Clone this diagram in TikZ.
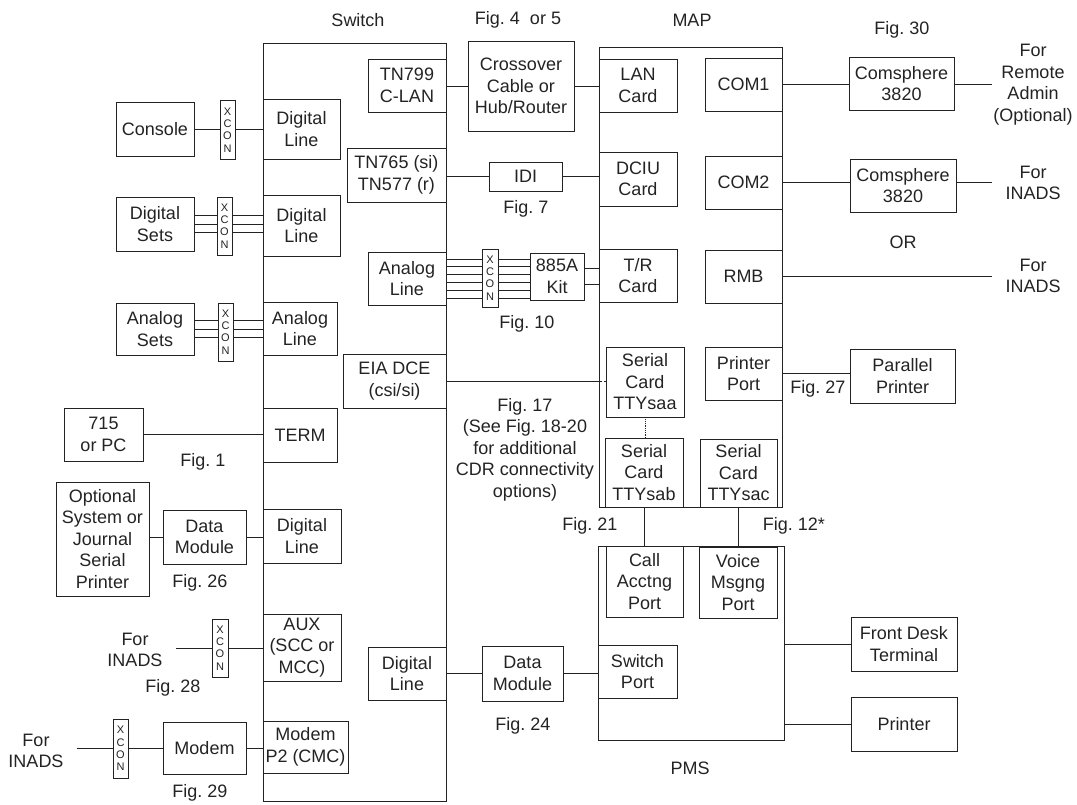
\documentclass[tikz,border=0pt]{standalone}
\usepackage{fontspec}
\setmainfont{Liberation Sans}
\usetikzlibrary{
  positioning,
  calc
}
\definecolor{ink}{RGB}{35,35,35}
\frenchspacing

\begin{document}
\begin{tikzpicture}[
  x=1pt, y=-1pt,
  every node/.style={font=\fontsize{18}{21.5}\selectfont, text=ink},
  card/.style={draw=ink, line width=0.9pt, align=center, inner sep=0pt},
  wh/.style 2 args={minimum width=#1, minimum height=#2},
  xcon/.style={card, minimum width=15pt, minimum height=58pt,
               font=\fontsize{11}{12.3}\selectfont},
  note/.style={align=center, text width=82pt, inner sep=0pt},
  wire/.style={draw=ink, line width=0.8pt}
]
\useasboundingbox (0,0) rectangle (1077,805);

% titles
\node (switchlbl) at (358,20) {Switch};
\node (fig45) at (518,20) {Fig. 4\ \ or 5};
\node (maplbl) at (692,20) {MAP};
\node (fig30) at (902,30) {Fig. 30};
\node (pmslbl) at (690,768) {PMS};

% the three cabinets
\node[card, wh={183pt}{758pt}] (switch) at (354.5,422) {};
\node[card, wh={183pt}{460pt}] (map) at (690.5,277) {};
\node[card, wh={186pt}{194pt}] (pms) at (691,643) {};

% switch boards
\node[card, wh={77pt}{60pt}] (dl1) at (301.5,129) {Digital\\Line};
\node[card, wh={78pt}{53pt}] (tn799) at (407,85.5) {TN799\\C-LAN};
\node[card, wh={99pt}{54pt}] (tn765) at (396.5,175) {TN765 (si)\\TN577 (r)};
\node[card, wh={77pt}{61pt}] (dl2) at (301.5,225.5) {Digital\\Line};
\node[card, wh={78pt}{53pt}] (alin) at (407,278.5) {Analog\\Line};
\node[card, wh={74pt}{53pt}] (al) at (300,328.5) {Analog\\Line};
\node[card, wh={103pt}{54pt}] (eia) at (394.5,381) {EIA DCE\\(csi/si)};
\node[card, wh={74pt}{54pt}] (term) at (300,435) {TERM};
\node[card, wh={78pt}{54pt}] (dl3) at (302,536) {Digital\\Line};
\node[card, wh={78pt}{67pt}] (aux) at (302,647.5) {AUX\\(SCC or\\MCC)};
\node[card, wh={78pt}{53pt}] (dl4) at (407,673.5) {Digital\\Line};
\node[card, wh={85pt}{52pt}] (modemp2) at (305.5,747) {Modem\\P2 (CMC)};

% left side
\node[card, wh={78pt}{54pt}] (console) at (155,129) {Console};
\node[xcon, minimum height=59pt] (xcon1) at (227.5,130) {X\\C\\O\\N};
\node[card, wh={78pt}{54pt}] (dsets) at (155,224) {Digital\\Sets};
\node[xcon] (xcon2) at (224.5,226) {X\\C\\O\\N};
\node[card, wh={78pt}{52pt}] (asets) at (155,329) {Analog\\Sets};
\node[xcon] (xcon4) at (225.5,332) {X\\C\\O\\N};
\node[card, wh={79pt}{53pt}] (pc715) at (103.5,434.5) {715\\or PC};
\node[card, wh={93pt}{114pt}] (optional) at (102.5,539)
  {Optional\\System or\\Journal\\Serial\\Printer};
\node[card, wh={83pt}{54pt}] (dmod1) at (204.5,537) {Data\\Module};
\node[xcon, minimum width=16pt] (xcon5) at (220,648) {X\\C\\O\\N};
\node[note] (inads1) at (135,650) {For\\INADS};
\node[card, wh={83pt}{52pt}] (modem) at (204.5,748) {Modem};
\node[xcon, minimum height=59pt] (xcon6) at (120.5,748.5) {X\\C\\O\\N};
\node[note] (inads2) at (36,751) {For\\INADS};

% middle
\node[card, wh={106pt}{90pt}] (crossover) at (521,86) {Crossover\\Cable or\\Hub/Router};
\node[card, wh={73pt}{29pt}] (idi) at (525.5,176.5) {IDI};
\node[xcon, minimum width=16pt] (xcon3) at (490,278) {X\\C\\O\\N};
\node[card, wh={54pt}{47pt}] (kit) at (557,276.5) {885A\\Kit};
\node[card, wh={81pt}{55pt}] (dmod2) at (522.5,673.5) {Data\\Module};

% MAP cards
\node[card, wh={78pt}{53pt}] (lan) at (638,85.5) {LAN\\Card};
\node[card, wh={77pt}{53pt}] (com1) at (743.5,84.5) {COM1};
\node[card, wh={78pt}{54pt}] (dciu) at (638,179) {DCIU\\Card};
\node[card, wh={77pt}{53pt}] (com2) at (743.5,182.5) {COM2};
\node[card, wh={78pt}{53pt}] (tr) at (638,275.5) {T/R\\Card};
\node[card, wh={77pt}{53pt}] (rmb) at (743.5,276.5) {RMB};
\node[card, wh={78pt}{70pt}] (saa) at (645,382) {Serial\\Card\\TTYsaa};
\node[card, wh={77pt}{53pt}] (pport) at (743.5,373.5) {Printer\\Port};
\node[card, wh={78pt}{69pt}] (sab) at (644,472.5) {Serial\\Card\\TTYsab};
\node[card, wh={77pt}{68pt}] (sac) at (738.5,473) {Serial\\Card\\TTYsac};

% PMS ports
\node[card, wh={77pt}{71pt}] (call) at (644.5,581.5) {Call\\Acctng\\Port};
\node[card, wh={78pt}{71pt}] (voice) at (738,582.5) {Voice\\Msgng\\Port};
\node[card, wh={79pt}{53pt}] (swport) at (637.5,671.5) {Switch\\Port};

% right side
\node[card, wh={105pt}{53pt}] (cs1) at (901.5,83.5) {Comsphere\\3820};
\node[note] (remote) at (1033,84.5) {For\\Remote\\Admin\\(Optional)};
\node[card, wh={106pt}{53pt}] (cs2) at (903,185.5) {Comsphere\\3820};
\node[note] (inads3) at (1033,183) {For\\INADS};
\node (orlbl) at (903,242) {OR};
\node[note] (inads4) at (1033,276) {For\\INADS};
\node[card, wh={105pt}{54pt}] (parprinter) at (902.5,376) {Parallel\\Printer};
\node[card, wh={106pt}{54pt}] (frontdesk) at (904,644) {Front Desk\\Terminal};
\node[card, wh={106pt}{54pt}] (printer) at (904,724) {Printer};

% figure references
\node (fig1) at (203,462) {Fig. 1};
\node (fig7) at (526,209) {Fig. 7};
\node (fig10) at (527,324) {Fig. 10};
\node[align=center, inner sep=0pt] (fig17) at (525,449.5)
  {Fig. 17\\(See Fig. 18-20\\for additional\\CDR connectivity\\options)};
\node (fig21) at (590,526) {Fig. 21};
\node (fig12) at (794,526) {Fig. 12*};
\node (fig24) at (523,726) {Fig. 24};
\node (fig26) at (200,583) {Fig. 26};
\node (fig27) at (818,389) {Fig. 27};
\node (fig28) at (173,688) {Fig. 28};
\node (fig29) at (200,793) {Fig. 29};

% single wires
\draw[wire] (console.east) -- (console.east -| xcon1.west)
  (xcon1.east |- console.east) -- (console.east -| dl1.west);
\draw[wire] (crossover.west -| tn799.east) -- (crossover.west)
  (crossover.east) -- (crossover.east -| lan.west);
\draw[wire] (idi.west -| tn765.east) -- (idi.west)
  (idi.east) -- (idi.east -| dciu.west);
\draw[wire] (pc715.east) -- (pc715.east -| term.west);
\draw[wire] (eia.east) -- (eia.east -| map.west);
\draw[wire, densely dashed] (eia.east -| map.west) -- (eia.east -| saa.west);
\draw[wire, densely dotted, line width=0.6pt] (saa.south) -- (saa.south |- sab.north);
\draw[wire] (sab.south) -- (sab.south |- call.north);
\draw[wire] (sac.south) -- (sac.south |- voice.north);
\draw[wire] (dmod1.west -| optional.east) -- (dmod1.west)
  (dmod1.east) -- (dmod1.east -| dl3.west);
\draw[wire] (xcon5.west -| inads1.east) -- (xcon5.west)
  (xcon5.east) -- (xcon5.east -| aux.west);
\draw[wire] (modem.west -| inads2.east) -- (modem.west -| xcon6.west)
  (modem.west -| xcon6.east) -- (modem.west)
  (modem.east) -- (modem.east -| modemp2.west);
\draw[wire] (dl4.east) -- (dl4.east -| dmod2.west)
  (dmod2.east |- dl4.east) -- (dl4.east -| swport.west);
\draw[wire] (com1.east) -- (com1.east -| cs1.west)
  (cs1.east |- com1.east) -- (com1.east -| remote.west);
\draw[wire] (com2.east) -- (com2.east -| cs2.west)
  (cs2.east |- com2.east) -- (com2.east -| inads3.west);
\draw[wire] (rmb.east) -- (rmb.east -| inads4.west);
\draw[wire] (pport.east) -- (pport.east -| parprinter.west);
\draw[wire] (frontdesk.west -| pms.east) -- (frontdesk.west);
\draw[wire] (printer.west -| pms.east) -- (printer.west);

% bundled wires
\foreach \d in {-8.5,0,8.5} {
  \draw[wire] ([yshift=\d pt]dsets.east) -- ([yshift=\d pt]dsets.east -| xcon2.west)
    ([yshift=\d pt]dsets.east -| xcon2.east) -- ([yshift=\d pt]dsets.east -| dl2.west);
  \draw[wire] ([yshift=\d pt]asets.east) -- ([yshift=\d pt]asets.east -| xcon4.west)
    ([yshift=\d pt]asets.east -| xcon4.east) -- ([yshift=\d pt]asets.east -| al.west);
}
\foreach \d in {-19.5,-11.7,-3.9,3.9,11.7,19.5} {
  \draw[wire] ([yshift=\d pt]alin.east) -- ([yshift=\d pt]alin.east -| xcon3.west)
    ([yshift=\d pt]alin.east -| xcon3.east) -- ([yshift=\d pt]alin.east -| kit.west);
}
\foreach \d in {-8,8}
  \draw[wire] ([yshift=\d pt]kit.east) -- ([yshift=\d pt]kit.east -| tr.west);

\end{tikzpicture}
\end{document}
